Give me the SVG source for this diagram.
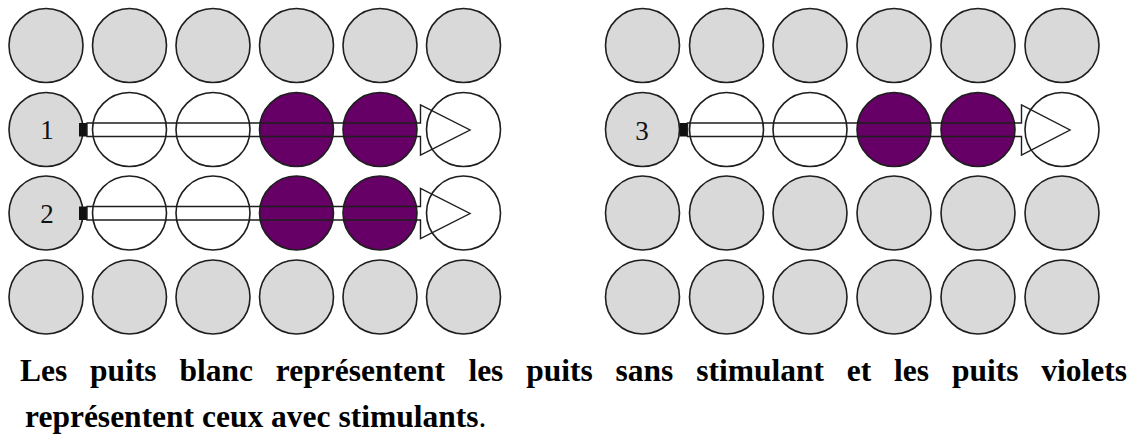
<svg xmlns="http://www.w3.org/2000/svg" width="1130" height="442" viewBox="0 0 1130 442">
<style>
.w{stroke:#1e1e1e;stroke-width:1.6}
.g{fill:#d9d9d9}
.e{fill:#ffffff}
.p{fill:#660066}
.num{font-family:'Liberation Serif','DejaVu Serif',serif;font-size:27px;fill:#111;text-anchor:middle}
.arr{fill:none;stroke:#1e1e1e;stroke-width:1.4;stroke-linejoin:miter}
.stub{fill:#111}
.cap{font-family:'Liberation Serif','DejaVu Serif',serif;font-size:31.5px;font-weight:bold;fill:#000}
</style>
<rect width="1130" height="442" fill="#fff"/>
<g id="plate-left">
<g id="L-r1">
<circle class="w g" cx="46" cy="45.5" r="37"/><circle class="w g" cx="129.5" cy="45.5" r="37"/><circle class="w g" cx="213" cy="45.5" r="37"/><circle class="w g" cx="296.5" cy="45.5" r="37"/><circle class="w g" cx="380" cy="45.5" r="37"/><circle class="w g" cx="463.5" cy="45.5" r="37"/>
</g>
<g id="L-r2">
<g id="well-1"><circle class="w g" cx="46" cy="129.5" r="37"/><text class="num" x="47" y="139">1</text></g>
<circle class="w e" cx="129.5" cy="129.5" r="37"/><circle class="w e" cx="213" cy="129.5" r="37"/><circle class="w p" cx="296.5" cy="129.5" r="37"/><circle class="w p" cx="380" cy="129.5" r="37"/><circle class="w e" cx="463.5" cy="129.5" r="37"/>
</g>
<g id="L-r3">
<g id="well-2"><circle class="w g" cx="46" cy="213" r="37"/><text class="num" x="47" y="222.5">2</text></g>
<circle class="w e" cx="129.5" cy="213" r="37"/><circle class="w e" cx="213" cy="213" r="37"/><circle class="w p" cx="296.5" cy="213" r="37"/><circle class="w p" cx="380" cy="213" r="37"/><circle class="w e" cx="463.5" cy="213" r="37"/>
</g>
<g id="L-r4">
<circle class="w g" cx="46" cy="297" r="37"/><circle class="w g" cx="129.5" cy="297" r="37"/><circle class="w g" cx="213" cy="297" r="37"/><circle class="w g" cx="296.5" cy="297" r="37"/><circle class="w g" cx="380" cy="297" r="37"/><circle class="w g" cx="463.5" cy="297" r="37"/>
</g>
</g>
<g id="plate-right">
<g id="R-r1">
<circle class="w g" cx="642.5" cy="45.5" r="37"/><circle class="w g" cx="726.5" cy="45.5" r="37"/><circle class="w g" cx="810" cy="45.5" r="37"/><circle class="w g" cx="894" cy="45.5" r="37"/><circle class="w g" cx="978" cy="45.5" r="37"/><circle class="w g" cx="1062" cy="45.5" r="37"/>
</g>
<g id="R-r2">
<g id="well-3"><circle class="w g" cx="642.5" cy="129.5" r="37"/><text class="num" x="642" y="139.5">3</text></g>
<circle class="w e" cx="726.5" cy="129.5" r="37"/><circle class="w e" cx="810" cy="129.5" r="37"/><circle class="w p" cx="894" cy="129.5" r="37"/><circle class="w p" cx="978" cy="129.5" r="37"/><circle class="w e" cx="1062" cy="129.5" r="37"/>
</g>
<g id="R-r3">
<circle class="w g" cx="642.5" cy="213" r="37"/><circle class="w g" cx="726.5" cy="213" r="37"/><circle class="w g" cx="810" cy="213" r="37"/><circle class="w g" cx="894" cy="213" r="37"/><circle class="w g" cx="978" cy="213" r="37"/><circle class="w g" cx="1062" cy="213" r="37"/>
</g>
<g id="R-r4">
<circle class="w g" cx="642.5" cy="297" r="37"/><circle class="w g" cx="726.5" cy="297" r="37"/><circle class="w g" cx="810" cy="297" r="37"/><circle class="w g" cx="894" cy="297" r="37"/><circle class="w g" cx="978" cy="297" r="37"/><circle class="w g" cx="1062" cy="297" r="37"/>
</g>
</g>
<g id="connectors">
<rect class="stub" x="79" y="123" width="8" height="13.5"/>
<path class="arr" d="M87 123 H420.5 V105 L470 130 L420.5 155 V136.5 H87 Z"/>
<rect class="stub" x="79" y="206.5" width="8" height="13.5"/>
<path class="arr" d="M87 206.5 H420.5 V188.5 L470 213.5 L420.5 238.5 V220 H87 Z"/>
<rect class="stub" x="679.5" y="123" width="8" height="13.5"/>
<path class="arr" d="M687.5 123 H1021.5 V105 L1070 130 L1021.5 155 V136.5 H687.5 Z"/>
</g>
<g id="caption">
<text class="cap" y="381"><tspan x="20">Les</tspan><tspan x="90.1">puits</tspan><tspan x="179.5">blanc</tspan><tspan x="275.8">représentent</tspan><tspan x="468.4">les</tspan><tspan x="526.2">puits</tspan><tspan x="615.6">sans</tspan><tspan x="696.2">stimulant</tspan><tspan x="846.8">et</tspan><tspan x="894.1">les</tspan><tspan x="951.9">puits</tspan><tspan x="1041.3">violets</tspan></text>
<text class="cap" x="25" y="427">représentent ceux avec stimulants<tspan font-weight="normal">.</tspan></text>
</g>
</svg>
